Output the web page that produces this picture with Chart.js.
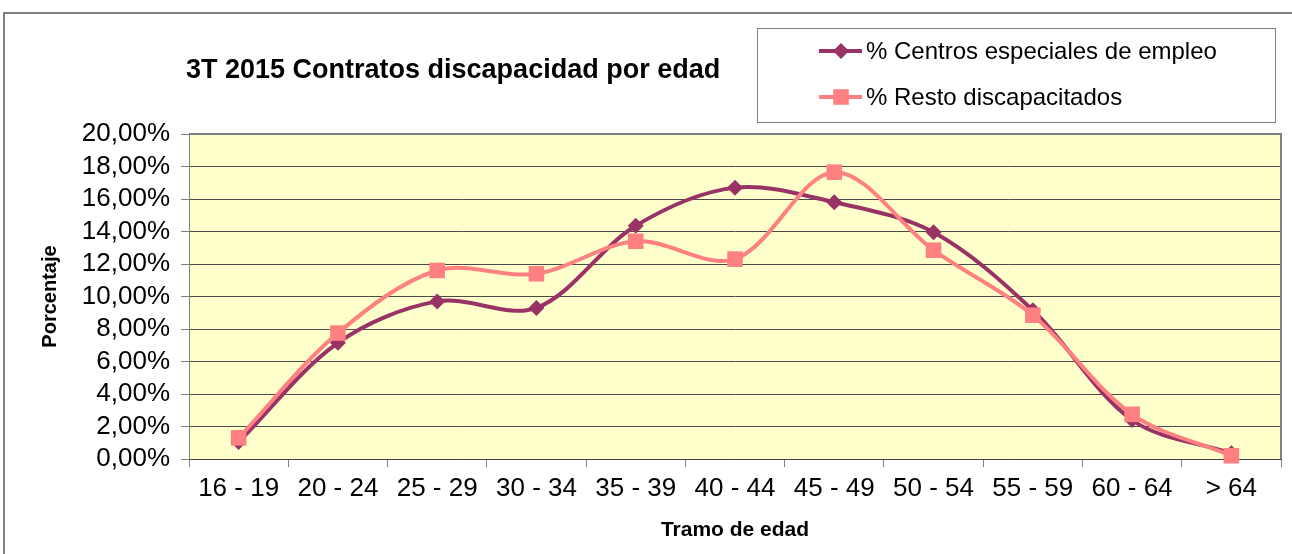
<!DOCTYPE html>
<html>
<head>
<meta charset="utf-8">
<script src="https://cdn.jsdelivr.net/npm/chart.js"></script>
<style>
  html, body { margin: 0; padding: 0; background: #fff; }
</style>
</head>
<body>
<canvas id="chart" width="1292" height="554"></canvas>
<script>
const chartTitle = '3T 2015 Contratos discapacidad por edad';
const categories = ['16 - 19', '20 - 24', '25 - 29', '30 - 34', '35 - 39', '40 - 44',
                    '45 - 49', '50 - 54', '55 - 59', '60 - 64', '> 64'];
const seriesNames = ['% Centros especiales de empleo', '% Resto discapacitados'];
const centrosValues = [1.05, 7.15, 9.7, 9.3, 14.35, 16.7, 15.8, 13.95, 9.15, 2.4, 0.35];
const restoValues = [1.3, 7.75, 11.6, 11.4, 13.4, 12.3, 17.65, 12.85, 8.85, 2.75, 0.2];

const FONT = "'Liberation Sans', Arial, sans-serif";

// small marker helper for the boxed legend
function marker(ctx, style, x, y, r, color) {
  ctx.fillStyle = color;
  ctx.beginPath();
  if (style === 'rectRot') {
    ctx.moveTo(x, y - r); ctx.lineTo(x + r, y); ctx.lineTo(x, y + r); ctx.lineTo(x - r, y);
  } else {
    const s = r * Math.SQRT1_2;
    ctx.rect(x - s, y - s, 2 * s, 2 * s);
  }
  ctx.closePath();
  ctx.fill();
}

const frame = {
  id: 'frame',
  beforeDraw(chart) {
    const {ctx, chartArea: a} = chart;
    ctx.save();
    ctx.fillStyle = '#FFFFCC';
    ctx.fillRect(a.left, a.top, a.right - a.left, a.bottom - a.top);
    ctx.restore();
  },
  afterDraw(chart) {
    const {ctx, chartArea: a} = chart;
    ctx.save();
    ctx.strokeStyle = '#808080';
    ctx.lineWidth = 2;
    ctx.beginPath();
    ctx.moveTo(a.left, a.top); ctx.lineTo(a.right, a.top); ctx.lineTo(a.right, a.bottom);
    ctx.stroke();
    // outer chart frame
    ctx.beginPath();
    ctx.moveTo(4, 554); ctx.lineTo(4, 13); ctx.lineTo(1292, 13);
    ctx.stroke();
    // title
    ctx.fillStyle = '#000';
    ctx.font = 'bold 27px ' + FONT;
    ctx.textBaseline = 'middle';
    ctx.textAlign = 'left';
    ctx.fillText(chartTitle, 186, 71);
    // legend
    ctx.lineWidth = 1;
    ctx.strokeStyle = '#808080';
    ctx.strokeRect(757.5, 28.5, 518, 94);
    ctx.font = '24px ' + FONT;
    chart.data.datasets.forEach((ds, i) => {
      const y = 51 + i * 46;
      ctx.strokeStyle = ds.borderColor;
      ctx.lineWidth = ds.borderWidth;
      ctx.beginPath(); ctx.moveTo(819, y); ctx.lineTo(862, y); ctx.stroke();
      marker(ctx, ds.pointStyle, 841, y, ds.pointRadius, ds.backgroundColor);
      ctx.fillStyle = '#000';
      ctx.fillText(ds.label, 866, y + 1);
    });
    ctx.restore();
  }
};

new Chart(document.getElementById('chart'), {
  type: 'line',
  data: {
    labels: categories,
    datasets: [
      {
        label: seriesNames[0],
        data: centrosValues,
        borderColor: '#993366',
        backgroundColor: '#993366',
        borderWidth: 4,
        pointStyle: 'rectRot',
        pointRadius: 8,
        pointBorderWidth: 0,
        tension: 0.33,
        clip: false,
        order: 1
      },
      {
        label: seriesNames[1],
        data: restoValues,
        borderColor: '#FF8080',
        backgroundColor: '#FF8080',
        borderWidth: 4,
        pointStyle: 'rect',
        pointRadius: 11,
        pointBorderWidth: 0,
        tension: 0.33,
        clip: false,
        order: 0
      }
    ]
  },
  options: {
    responsive: false,
    animation: false,
    layout: { padding: { top: 134, right: 9, left: 0, bottom: 0 } },
    plugins: {
      legend: { display: false },
      title: { display: false },
      tooltip: { enabled: false }
    },
    scales: {
      x: {
        offset: true,
        grid: { display: true, drawOnChartArea: false, offset: true, tickLength: 8, color: '#808080' },
        border: { color: '#404040', width: 1 },
        ticks: { font: { family: FONT, size: 26 }, color: '#000', padding: 6, autoSkip: false, maxRotation: 0 },
        title: {
          display: true, text: 'Tramo de edad', color: '#000',
          font: { family: FONT, size: 21, weight: 'bold' },
          padding: { top: 0, bottom: 11 }
        },
        afterFit(s) { s.height = 95; }
      },
      y: {
        min: 0,
        max: 20,
        ticks: {
          stepSize: 2,
          autoSkip: false,
          callback: v => v.toFixed(2).replace('.', ',') + '%',
          font: { family: FONT, size: 26 }, color: '#000', padding: 11
        },
        grid: { color: '#4a4a4a', tickColor: '#808080', tickLength: 8 },
        border: { color: '#808080' },
        title: {
          display: true, text: 'Porcentaje', color: '#000',
          font: { family: FONT, size: 20, weight: 'bold' },
          padding: { top: 38, bottom: 0 }
        },
        afterFit(s) { s.width = 189; }
      }
    }
  },
  plugins: [frame]
});
</script>
</body>
</html>
